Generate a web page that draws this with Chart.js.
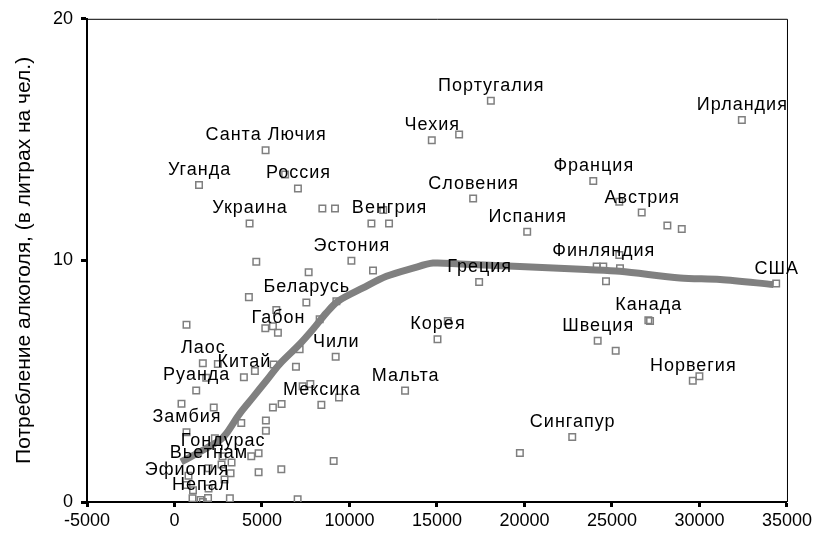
<!DOCTYPE html>
<html lang="ru">
  <head>
    <meta charset="utf-8" />
    <title>Потребление алкоголя</title>
    <script src="https://cdn.jsdelivr.net/npm/chart.js"></script>
    <style>
      body { margin: 0; background: #fff; }
      #wrap { width: 815px; height: 534px; }
    </style>
  </head>
  <body>
    <div id="wrap"><canvas id="alcoChart" width="815" height="534"></canvas></div>

    <script>
      // countries ('' = no label), GDP per capita and alcohol consumption
      const countries = [
        "Санта Лючия", "Уганда", "Россия", "Украина", "Венгрия", "Чехия",
        "Португалия", "Ирландия", "Франция", "Словения", "Австрия", "Испания",
        "Финляндия", "Греция", "США", "Канада", "Швеция", "Корея", "Норвегия",
        "Сингапур", "Мальта", "Эстония", "Беларусь", "Габон", "Чили", "Лаос",
        "Китай", "Руанда", "Мексика", "Замбия", "Гондурас", "Вьетнам",
        "Эфиопия", "Непал",
        "", "", "", "", "", "", "", "", "", "", "", "", "", "", "", "", "", "",
        "", "", "", "", "", "", "", "", "", "", "", "", "", "", "", "", "", "",
        "", "", "", "", "", "", "", "", "", "", "", "", "", "", "", "", "", "",
        "", "", "", "", "", "", "", "", "", "", "", "", "", "", "", "", "", ""
      ];
      const gdp = [
        5206, 1402, 7054, 4291, 12260, 14703,
        18078, 32421, 23931, 17066, 26700, 20155,
        24503, 17409, 34383, 27078, 24183, 15029, 29618,
        22729, 13176, 10109, 7535, 5910, 9211, 1619,
        3965, 1241, 8393, 687, 2746, 1945,
        686, 1487,
        6322, 8450, 9171, 11928, 11253, 16265, 25418, 28165, 28988, 25418,
        24126, 25458, 24658, 27175, 25213, 15618, 29995, 19737, 11345, 7666,
        4674, 4251, 9251, 5818, 5189, 5624, 687, 8295, 7151, 6940,
        2477, 5664, 4594, 1814, 7323, 7763, 9400, 400, 2243, 5624,
        6121, 3816, 5223, 5223, 2306, 4806, 4388, 9096, 6104, 4806,
        3261, 2689, 3204, 801, 2861, 1058, 1945, 1030, 1619, 1917,
        3164, 7037
      ];
      const alcohol = [
        14.56, 13.12, 12.98, 11.53, 11.53, 14.97,
        16.61, 15.81, 13.29, 12.56, 11.98, 11.19,
        9.75, 9.11, 9.04, 7.52, 6.67, 6.74, 5.02,
        2.69, 4.61, 9.99, 8.26, 7.01, 6.01, 5.74,
        5.16, 4.62, 4.02, 2.89, 1.89, 1.4,
        0.7, 0.08,
        13.56, 12.15, 12.15, 12.09, 11.53, 15.21, 12.43, 11.44, 11.3, 10.22,
        9.75, 9.68, 9.14, 7.49, 6.26, 7.49, 5.2, 2.03, 9.58, 9.51,
        9.94, 8.48, 8.31, 7.95, 7.19, 7.27, 7.34, 7.56, 6.32, 5.6,
        5.71, 5.69, 5.42, 5.14, 4.79, 4.88, 4.33, 4.07, 3.91, 3.91,
        4.06, 3.27, 3.37, 2.95, 2.64, 2.02, 1.89, 1.7, 1.36, 1.23,
        1.63, 1.55, 1.19, 1.09, 0.93, 0.49, 0.56, 0.16, 0.0, 0.17,
        0.15, 0.11
      ];

      // smoothed fit line
      const fitX = [383, 1430, 2574, 2958, 3719, 4480, 5246, 6007, 7151, 7912,
        8679, 9343, 10773, 12111, 13633, 14777, 16305, 19737, 23553, 25458,
        28890, 31178, 34229];
      const fitY = [1.66, 2.07, 2.55, 2.83, 3.65, 4.33, 5.02, 5.71, 6.53, 7.15,
        7.83, 8.31, 8.86, 9.34, 9.68, 9.89, 9.85, 9.75, 9.62, 9.55,
        9.27, 9.21, 9.0];

      const xTicks = [-5000, 0, 5000, 10000, 15000, 20000, 25000, 30000, 35000];
      const yTicks = [0, 10, 20];
      const yTitle = "Потребление алкоголя, (в литрах на чел.)";

      const FONT = "'Liberation Sans', Arial, sans-serif";

      // country names above the points + top/right frame
      const labelPlugin = {
        id: "labels",
        afterDatasetsDraw(chart) {
          const meta = chart.getDatasetMeta(1);
          const ctx = chart.ctx;
          ctx.save();
          ctx.font = "18px " + FONT;
          ctx.letterSpacing = "1px";
          ctx.fillStyle = "#000";
          ctx.textAlign = "center";
          ctx.textBaseline = "alphabetic";
          countries.forEach((name, i) => {
            if (!name) return;
            const p = meta.data[i];
            ctx.fillText(name, p.x + 0.5, p.y - 10);
          });
          ctx.restore();
        },
        afterDraw(chart) {
          const a = chart.chartArea;
          const ctx = chart.ctx;
          ctx.save();
          ctx.strokeStyle = "#000";
          ctx.lineWidth = 1;
          ctx.beginPath();
          ctx.moveTo(a.left, a.top + 0.5);
          ctx.lineTo(a.right + 0.5, a.top + 0.5);
          ctx.lineTo(a.right + 0.5, a.bottom);
          ctx.stroke();
          ctx.restore();
        },
      };

      const ctx = document.getElementById("alcoChart").getContext("2d");
      var chart = new Chart(ctx, {
        type: "scatter",
        data: {
          datasets: [
            {
              type: "line",
              label: "fit",
              data: fitX.map((x, i) => ({ x: x, y: fitY[i] })),
              borderColor: "#808080",
              borderWidth: 7,
              pointRadius: 0,
              tension: 0.3,
              fill: false,
              order: 2,
            },
            {
              label: "countries",
              data: gdp.map((x, i) => ({ x: x, y: alcohol[i] })),
              pointStyle: "rect",
              pointRadius: 4.6,
              pointBorderWidth: 1.5,
              pointBorderColor: "#7f7f7f",
              pointBackgroundColor: "rgba(0,0,0,0)",
              order: 1,
            },
          ],
        },
        options: {
          responsive: false,
          animation: false,
          events: [],
          layout: { padding: { top: 16, right: 28, left: 0, bottom: 0 } },
          plugins: { legend: { display: false }, tooltip: { enabled: false } },
          scales: {
            x: {
              type: "linear",
              min: -5000,
              max: 35000,
              afterBuildTicks: (s) => { s.ticks = xTicks.map((v) => ({ value: v })); },
              afterFit: (s) => { s.height = 32; },
              border: { display: true, color: "#000", width: 2 },
              grid: { drawOnChartArea: false, drawTicks: true, tickLength: 5, tickWidth: 3, color: "#000" },
              ticks: {
                color: "#000",
                padding: 3,
                maxRotation: 0,
                font: { size: 18, family: FONT },
                callback: (v) => String(v),
              },
            },
            y: {
              type: "linear",
              min: 0,
              max: 20,
              afterBuildTicks: (s) => { s.ticks = yTicks.map((v) => ({ value: v })); },
              afterFit: (s) => { s.width = 87; },
              border: { display: true, color: "#000", width: 2 },
              grid: { drawOnChartArea: false, drawTicks: true, tickLength: 6, tickWidth: 3, color: "#000" },
              ticks: { color: "#000", padding: 8, font: { size: 18, family: FONT }, callback: (v) => String(v) },
              title: {
                display: true,
                text: yTitle,
                color: "#000",
                padding: { top: 12, bottom: 0 },
                font: { size: 21, family: FONT },
              },
            },
          },
        },
        plugins: [labelPlugin],
      });
    </script>
  </body>
</html>
